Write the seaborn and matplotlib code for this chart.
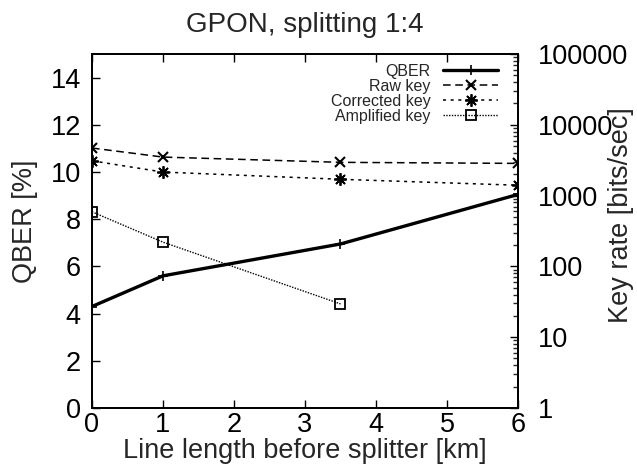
import numpy as np
import matplotlib
matplotlib.use('Agg')
import matplotlib.pyplot as plt
import matplotlib.ticker as mticker
import seaborn as sns

# data
length_km = [0, 1, 3.5, 6]
qber = [4.3, 5.6, 6.95, 9.05]
raw_key = [4700, 3500, 2950, 2850]
corrected_key = [3100, 2150, 1700, 1400]
amp_length_km = [0, 1, 3.5]
amplified_key = [590, 220, 29.5]

sns.set_style('ticks')
plt.rcParams['font.family'] = ['Liberation Sans', 'DejaVu Sans']
plt.rcParams['xtick.direction'] = 'in'
plt.rcParams['ytick.direction'] = 'in'

fs = 19.5
fig = plt.figure(figsize=(6.37, 4.66), dpi=100)
ax = fig.add_axes([0.1444, 0.1245, 0.6688, 0.7596])
ax2 = ax.twinx()

sns.lineplot(x=length_km, y=qber, ax=ax, color='black', linewidth=2.4,
             marker='+', markersize=7, mec='black', mew=1.2, label='QBER')
sns.lineplot(x=length_km, y=raw_key, ax=ax2, color='black', linewidth=1.1,
             linestyle=(0, (5, 3)), marker='x', markersize=7,
             mec='black', mew=1.5, label='Raw key')
sns.lineplot(x=length_km, y=corrected_key, ax=ax2, color='black', linewidth=1.1,
             linestyle=(0, (2, 3)), marker=(8, 2, 0), markersize=9,
             mec='black', mew=1.3, label='Corrected key')
sns.lineplot(x=amp_length_km, y=amplified_key, ax=ax2, color='black', linewidth=1.0,
             linestyle=(0, (1, 1)), marker='s', markersize=7, mfc='none',
             mec='black', mew=1.3, label='Amplified key')

ax.set_xlim(0, 6)
ax.set_ylim(0, 15)
ax.set_yticks(range(0, 15, 2))
ax.set_xticks(range(0, 7))
ax2.set_yscale('log')
ax2.set_ylim(1, 100000)
ax2.yaxis.set_major_locator(mticker.LogLocator(base=10, numticks=10))
ax2.yaxis.set_minor_locator(mticker.LogLocator(base=10, subs=np.arange(2, 10), numticks=10))
ax2.yaxis.set_major_formatter(mticker.FuncFormatter(lambda v, p: f'{v:.0f}'))
ax2.yaxis.set_minor_formatter(mticker.NullFormatter())

for a in (ax, ax2):
    for s in a.spines.values():
        s.set_visible(True)
        s.set_linewidth(1.3)
        s.set_color('black')

ax.tick_params(axis='x', top=True, length=6, width=1, labelsize=fs, pad=3, colors='black')
ax.tick_params(axis='y', right=False, length=6, width=1, labelsize=fs, pad=8, colors='black')
ax2.tick_params(axis='y', which='major', length=6, width=1, labelsize=fs, pad=14, colors='black')
ax2.tick_params(axis='y', which='minor', length=3.5, width=1)

ax.set_xlabel('Line length before splitter [km]', fontsize=fs, labelpad=0)
ax.set_ylabel('QBER [%]', fontsize=fs)
ax.yaxis.set_label_coords(-0.127, 0.528)
ax2.set_ylabel('Key rate [bits/sec]', fontsize=fs, rotation=90)
ax2.yaxis.set_label_coords(1.212, 0.545)
ax.set_title('GPON, splitting 1:4', fontsize=20, pad=16)

h1, l1 = ax.get_legend_handles_labels()
h2, l2 = ax2.get_legend_handles_labels()
ax.get_legend().remove()
ax2.legend(h1 + h2, l1 + l2, loc='upper right', frameon=False, markerfirst=False,
           fontsize=11.5, handlelength=3.4, handletextpad=0.8, labelspacing=0.0,
           borderaxespad=0.2, bbox_to_anchor=(0.975, 1.0))

fig.savefig('out.png', dpi=100)
